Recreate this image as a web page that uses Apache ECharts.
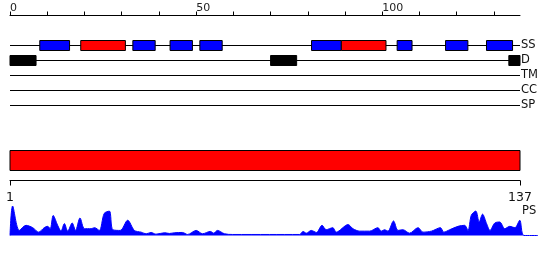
<!DOCTYPE html>
<html>
<head>
<meta charset="utf-8">
<script src="https://cdn.jsdelivr.net/npm/echarts@6/dist/echarts.min.js"></script>
<style>html,body{margin:0;padding:0;background:#fff}#c{width:550px;height:260px}</style>
</head>
<body>
<div id="c"></div>
<script>
// ---- data ----
const seqLength = 137;
const tracks = ['SS', 'D', 'TM', 'CC', 'SP'];
const topTicks = [0, 10, 20, 30, 40, 50, 60, 70, 80, 90, 100, 110, 120, 130];
const topLabels = [0, 50, 100];
const rulerTicks = [0, 137];
const rulerLabels = ['1', '137'];

// secondary structure segments (E = strand/blue, H = helix/red)
const ssStarts = [8, 19, 33, 43, 51, 81, 89, 104, 117, 128];
const ssEnds   = [16, 31, 39, 49, 57, 89, 101, 108, 123, 135];
const ssTypes  = ['E', 'H', 'E', 'E', 'E', 'E', 'H', 'E', 'E', 'E'];

// disordered segments
const dStarts = [0, 70, 134];
const dEnds   = [7, 77, 137];

// whole-sequence domain bar
const domainStart = 0;
const domainEnd = 137;

// PS profile (position, value)
const psX = [0, 0.7, 2.5, 4.3, 6.1, 7.7, 9.2, 10.1, 10.8, 11.6, 12.8, 13.7, 14.6, 15.5, 16.7, 17.6, 18.8, 20.0, 21.8, 22.7, 24.0, 25.3, 26.7, 27.6, 29.6, 31.6, 33.4, 35.2, 36.6, 37.9, 39.2, 41.5, 42.8, 44.2, 46.3, 47.7, 50.0, 51.7, 53.8, 54.7, 55.7, 57.6, 59.8, 69.7, 77.8, 78.7, 79.6, 80.9, 82.3, 83.8, 84.9, 86.7, 87.6, 90.8, 92.1, 93.9, 96.6, 98.8, 99.7, 100.6, 101.5, 103.0, 104.2, 105.5, 107.3, 109.6, 110.9, 113.2, 115.6, 116.5, 118.1, 120.3, 122.1, 123.0, 123.9, 125.1, 126.0, 126.9, 128.0, 128.9, 130.2, 131.5, 132.9, 134.2, 135.6, 136.9, 138.0, 141.8];
const psY = [0, 29, 5, 10, 7.7, 3.3, 7.7, 9, 6.7, 19.7, 10, 4.3, 11.7, 4.3, 12.3, 5, 17.3, 6.7, 6.7, 7.7, 5, 21.7, 24, 5.7, 5, 15, 5, 3.3, 1.7, 3, 1.3, 2.7, 2, 2.7, 3, 1, 5, 1.7, 4, 2.3, 5, 1.7, 1, 1, 1, 4, 2.3, 5, 3, 10, 5.7, 7.7, 3.3, 10.7, 6.7, 4.3, 4.3, 7.7, 4.3, 5.7, 4.3, 14.3, 5, 5.7, 2.3, 7.7, 3.3, 4.3, 7.7, 3.3, 5.7, 9, 10, 5, 20, 24, 13.3, 21, 11.7, 5, 12.3, 13.3, 6.7, 9, 7.7, 15, 0, 0];
const psName = 'PS';

// ---- chart ----
const FONT = 'DejaVu Sans';
const chart = echarts.init(document.getElementById('c'), null, {renderer: 'canvas'});

const ssColor = {E: '#0000ff', H: '#ff0000'};
const ssTrack = 2 + tracks.indexOf('SS');
const dTrack = 2 + tracks.indexOf('D');

function rectItem(api, x0, x1, yc, h, fill) {
  const p0 = api.coord([x0, yc]);
  const p1 = api.coord([x1, yc]);
  return {
    type: 'rect',
    shape: {x: p0[0], y: p0[1] - h / 2, width: p1[0] - p0[0], height: h},
    style: {fill: fill, stroke: '#000', lineWidth: 1}
  };
}

const option = {
  animation: false,
  grid: [
    {left: 10, width: 510, top: 15.5, height: 90},
    {left: 10, width: 510, top: 150.5, height: 20},
    {left: 10, width: 510, top: 179.5, height: 1},
    {left: 10, width: 528, top: 205, height: 30.5}
  ],
  xAxis: [
    {gridIndex: 0, type: 'value', position: 'top', min: 0, max: seqLength,
     axisLine: {show: true, lineStyle: {color: '#000', width: 1}},
     axisTick: {show: true, length: 4, customValues: topTicks, lineStyle: {color: '#000'}},
     axisLabel: {customValues: topLabels, align: 'left', margin: 2, fontSize: 11, fontFamily: FONT, color: '#222'},
     splitLine: {show: false}},
    {gridIndex: 1, type: 'value', min: 0, max: seqLength, show: false},
    {gridIndex: 2, type: 'value', position: 'bottom', min: 0, max: seqLength,
     axisLine: {show: true, lineStyle: {color: '#000', width: 1}},
     axisTick: {show: true, length: 5, customValues: rulerTicks, lineStyle: {color: '#000'}},
     axisLabel: {customValues: rulerTicks, margin: 10.5, fontSize: 12.5, fontFamily: FONT, color: '#111',
       formatter: v => rulerLabels[rulerTicks.indexOf(v)]},
     splitLine: {show: false}},
    {gridIndex: 3, type: 'value', min: 0, max: psX[psX.length - 1], show: false}
  ],
  yAxis: [
    {gridIndex: 0, type: 'value', inverse: true, min: 0, max: 6, position: 'right',
     axisLine: {show: false}, axisTick: {show: false}, splitLine: {show: false},
     axisLabel: {customValues: [2, 3, 4, 5, 6], margin: 1, fontSize: 11.5, fontFamily: FONT, color: '#111',
       formatter: v => tracks[v - 2] || ''}},
    {gridIndex: 1, type: 'value', min: 0, max: 1, show: false},
    {gridIndex: 2, type: 'value', min: 0, max: 1, show: false},
    {gridIndex: 3, type: 'value', min: 0, max: 30, show: false}
  ],
  graphic: [
    {type: 'text', left: 522, top: 205, style: {text: psName, fontSize: 11.5, fontFamily: FONT, fill: '#111'}}
  ],
  series: [
    {
      type: 'custom', xAxisIndex: 0, yAxisIndex: 0, z: 1,
      data: tracks.map((t, i) => [i + 2]),
      renderItem: (params, api) => {
        const v = api.value(0);
        const p0 = api.coord([0, v]);
        const p1 = api.coord([seqLength, v]);
        return {type: 'line', shape: {x1: p0[0], y1: p0[1], x2: p1[0], y2: p1[1]},
          style: {stroke: '#000', lineWidth: 1}};
      }
    },
    {
      type: 'custom', xAxisIndex: 0, yAxisIndex: 0, z: 2,
      data: ssStarts.map((s, i) => [s, ssEnds[i], ssTrack, i]),
      renderItem: (params, api) => rectItem(api, api.value(0), api.value(1), api.value(2), 10,
        ssColor[ssTypes[api.value(3)]])
    },
    {
      type: 'custom', xAxisIndex: 0, yAxisIndex: 0, z: 2,
      data: dStarts.map((s, i) => [s, dEnds[i], dTrack]),
      renderItem: (params, api) => rectItem(api, api.value(0), api.value(1), api.value(2), 10, '#000')
    },
    {
      type: 'custom', xAxisIndex: 1, yAxisIndex: 1, z: 2,
      data: [[domainStart, domainEnd]],
      renderItem: (params, api) => {
        const p0 = api.coord([api.value(0), 1]);
        const p1 = api.coord([api.value(1), 0]);
        return {type: 'rect', shape: {x: p0[0], y: p0[1], width: p1[0] - p0[0], height: p1[1] - p0[1]},
          style: {fill: '#ff0000', stroke: '#000', lineWidth: 1}};
      }
    },
    {
      type: 'line', xAxisIndex: 3, yAxisIndex: 3,
      data: psX.map((x, i) => [x, psY[i]]),
      smooth: 0.3, symbol: 'none',
      lineStyle: {color: '#0000ff', width: 1},
      areaStyle: {color: '#0000ff', opacity: 1}
    }
  ]
};
chart.setOption(option);
</script>
</body>
</html>
